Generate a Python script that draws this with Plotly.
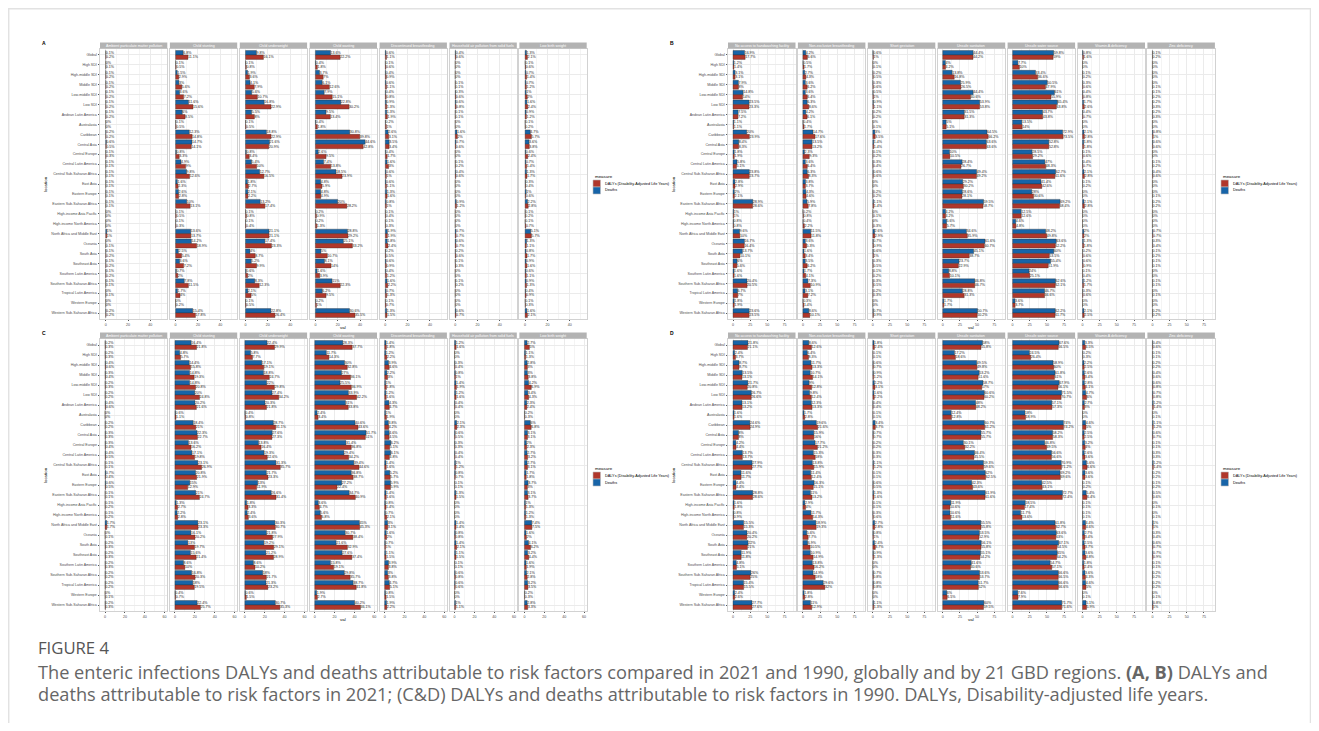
import plotly.graph_objects as go

# Page body has an 8px default margin; the figure covers x 8..1311, y 8..723 of the window.
OX, OY = 8, 8
W, H = 1303, 715

locations = ["Global", "High SDI", "High-middle SDI", "Middle SDI", "Low-middle SDI", "Low SDI",
             "Andean Latin America", "Australasia", "Caribbean", "Central Asia", "Central Europe",
             "Central Latin America", "Central Sub-Saharan Africa", "East Asia", "Eastern Europe",
             "Eastern Sub-Saharan Africa", "High-income Asia Pacific", "High-income North America",
             "North Africa and Middle East", "Oceania", "South Asia", "Southeast Asia",
             "Southern Latin America", "Southern Sub-Saharan Africa", "Tropical Latin America",
             "Western Europe", "Western Sub-Saharan Africa"]

risks_AC = ["Ambient particulate matter pollution", "Child stunting", "Child underweight", "Child wasting",
            "Discontinued breastfeeding", "Household air pollution from solid fuels", "Low birth weight"]
risks_BD = ["No access to handwashing facility", "Non-exclusive breastfeeding", "Short gestation",
            "Unsafe sanitation", "Unsafe water source", "Vitamin A deficiency", "Zinc deficiency"]

# ---------------- Panel A (2021) ----------------
A_ambient_deaths = [0.1,0,0.1,0.1,0.1,0.1,0.1,0,0.2,0.6,0.1,0.1,0.1,0.1,0.1,0.1,0,0,1,0,0.1,0.1,0.1,0.1,0,0,0.2]
A_ambient_dalys = [0.2,0.1,0.2,0.2,0.2,0.2,0.2,0,0.2,0.5,0.3,0.1,0.1,0.1,0.1,0.1,0,0,1,0.1,0.2,0.2,0.2,0.1,0.1,0,0.2]
A_stunting_deaths = [6.8,0.1,1.5,3,3.6,11.6,6,0.1,12.3,14.7,0.8,4.9,9.8,1.6,2.6,10,0.1,0.1,13.6,14.2,2.5,3.6,0.7,7.8,1.7,0,15.4]
A_stunting_dalys = [11.1,0.5,2.9,5.6,7.2,15.6,8.5,0.5,14.8,14.1,3.3,9,12.6,2.3,2.8,13.1,0.5,0.3,13.7,18.9,5.4,7.2,2,11.5,4,0.2,17.8]
A_underweight_deaths = [9.8,0.1,1.9,4.1,5.6,16.8,5.5,0.1,18.8,21.6,0.8,5.4,12.7,1.8,2.1,13.2,0.1,0.1,21.1,17.4,4,5.2,0.6,8.3,2.1,0.1,22.8]
A_underweight_dalys = [16.1,0.8,3.6,7.9,10.7,22.9,8,0.5,22.9,20.9,3.4,10,16.5,2.7,2.2,17.4,0.8,0.4,21.1,23.3,8.7,9.9,2,12.3,5,0.5,26.4]
A_wasting_deaths = [13.6,0.4,3.7,6.1,7.9,22.8,9.5,0.4,30.8,44.6,2.6,7.4,18.5,4.8,4.8,20,0.2,0.2,28.8,25.1,5,8.1,1.6,15,6.2,0.2,30.6]
A_wasting_dalys = [22.2,1.8,7,12.6,15.1,30.2,13.4,1.8,39.8,42.8,9.5,13.8,23.9,5.9,4.9,28.2,0.9,1.3,29.2,33.2,10.7,14,3.9,22.3,9.5,1,35.5]
A_discont_deaths = [0.6,0.1,0.4,0.6,0.4,0.9,1.3,0.2,2.6,3.5,0.4,1.6,0.6,0.6,1.3,0.8,0.1,0.1,1.9,1.8,0.2,0.6,0.4,1.6,0.7,0.1,1.3]
A_discont_dalys = [1.1,0.6,0.9,1.1,0.8,1.3,1.9,1,3.1,3.4,1.7,3,1,1.1,1.6,1,0.4,0.3,1.9,2.4,0.5,0.9,1.2,2.2,1.3,0.7,1.5]
A_household_deaths = [0.4,0,0,0.1,0.3,0.6,0.1,0,1.6,0.7,0,0.1,0.4,0,0,0.9,0,0,0.7,0.6,0.2,0.1,0,0.1,0,0,0.6]
A_household_dalys = [0.6,0,0,0.1,0.6,0.8,0.1,0,2,0.6,0,0.2,0.6,0,0,1.2,0,0,0.7,0.7,0.6,0.3,0,0.2,0,0,0.7]
A_lbw_deaths = [1.3,0.1,0.7,0.7,1,1.6,0.9,0.1,4.7,3.6,0.6,0.7,1.3,0.3,1,2.2,0.1,0.1,5.1,1.3,0.8,0.9,0.6,0.9,0.4,0.1,1.6]
A_lbw_dalys = [2.1,0.6,1.4,1.2,2,2.4,1.2,0.2,5.7,3.8,2.4,1.4,1.7,0.4,0.6,2.8,0.2,0.7,5.7,1.1,1.7,1.6,1.1,1.3,0.9,0.3,2.1]

# ---------------- Panel B (2021) ----------------
B_handwash_deaths = [16.9,1.2,3.1,7.9,14.8,23.5,7.5,1.1,20,8.4,1.8,5.8,23.8,2.8,2,28.9,1,0.8,9.6,16.7,13.7,6,1.6,20.4,6.7,1.8,23.6]
B_handwash_dalys = [17.7,1.4,3.1,8,14,23.3,7.2,1.1,23.9,8.3,1.9,5.1,23.7,2.9,2.1,28.6,1,0.8,10,16.4,10.1,5.6,1.6,20.5,7,1.9,23.5]
B_nonexcl_deaths = [4.2,0.5,2.7,3.6,3.6,6.3,4.2,0.4,14.7,13.5,2.3,3.6,6.3,3.8,4.3,5.9,0.2,0.4,11.5,3.6,1.6,3.5,1.7,7.3,3.1,0.3,8.6]
B_nonexcl_dalys = [6.6,1.7,4.3,6.2,6.4,8.6,6.1,1.7,17.6,13.2,9.3,6.4,8.3,3.7,4.6,7.8,0.8,2.2,11.8,5.3,3.4,6.2,4.1,10.9,7.2,1.4,10.1]
B_shortgest_deaths = [0.6,0,0.2,0.3,0.5,0.9,0.2,0,3,1.4,0.1,0.3,0.6,0,0.2,1.1,0,0,2.6,0.7,0.6,0.3,0.1,0.3,0.2,0,0.7]
B_shortgest_dalys = [1,0.1,0.5,0.6,1,1.1,0.2,0.1,3.5,1.4,0.2,0.4,0.6,0,0.2,1.4,0.1,0.3,2.9,0.9,1,0.5,0.2,0.5,0.3,0,0.9]
B_sanitation_deaths = [44.4,4,13.8,25.9,44.4,53.9,31.5,5,64.5,63.6,10,28.4,49.4,29.2,28.6,59.5,4.2,5.6,34.6,61.6,45.1,23.7,8.8,46.8,28.8,1.7,50.7]
B_sanitation_dalys = [44.2,4.2,16.8,26.5,40.6,53.8,31.3,5.1,66.2,63.6,10.5,26.7,49.2,30.2,28.1,58.7,4.2,5.7,35.9,60.7,38.7,22.9,10.1,46.7,31.3,1.7,50.2]
B_water_deaths = [59.8,7.7,33.4,50.5,61,65.4,43.7,13.5,72.9,52.8,28.5,47,62.7,41.4,28,69.2,12.5,4.6,48.2,63.6,60,55.4,24,62.6,46.7,3.6,62.2]
B_water_dalys = [59,10,36.6,47.9,55.9,63.8,43.8,14,73.5,52.8,29.2,48.3,61.6,42.6,30.6,68.4,12.6,4.8,49.8,62.2,53.5,51.9,25.1,62.1,46.6,3.7,61.7]
B_vita_deaths = [0.8,0,0.1,0.3,0.4,1.7,0.4,0,2.1,1.8,0.1,0.4,2.1,0.1,0,2.1,0,0,2,1.3,0.2,0.6,0.1,1.2,0.3,0,2.1]
B_vita_dalys = [1.6,0,0.2,0.6,0.8,2.6,0.7,0,2.8,1.8,0.6,0.7,2.8,0.2,0,2.8,0,0,2,1.8,0.6,0.9,0.4,1.7,0.6,0,2.5]
B_zinc_deaths = [0.1,0,0,0,0.1,0.2,0.2,0,0.8,0.6,0,0.1,0.4,0,0,0.2,0,0,0.7,0.3,0.1,0.1,0,0.1,0,0,0.2]
B_zinc_dalys = [0.2,0,0,0.1,0.2,0.3,0.3,0,1,0.6,0,0.2,0.6,0,0.1,0.2,0,0,0.7,0.4,0.2,0.1,0,0.1,0.1,0,0.2]

# ---------------- Panel C (1990) ----------------
C_ambient_deaths = [0.2,0.2,0.4,0.3,0.2,0.2,0.4,0,0.2,0.3,0.3,0.4,0.1,0.7,0.6,0.1,0.1,0.1,1.7,0,0.2,0.2,0.2,0.2,0.2,0,0.2]
C_ambient_dalys = [0.3,0.3,0.6,0.4,0.3,0.2,0.6,0,0.2,0.3,0.4,0.5,0.1,0.4,0.5,0.1,0.2,0.2,1.7,0.1,0.3,0.3,0.3,0.2,0.2,0.1,0.3]
C_stunting_deaths = [16.4,4.8,14.4,14.8,14.8,20,20.2,0.6,18.4,22.3,13.6,17.1,23.1,20.8,15,21,1.3,2.2,23.1,16.1,13,15.6,8.6,16.8,18,0.4,22.4]
C_stunting_dalys = [21.8,5.7,15.8,19.3,20.8,24.8,21.6,1.1,21,22.7,16.2,19.8,26.9,21.9,12.9,24.7,2.7,2.8,23.3,20.2,19.7,21.4,10,20.3,19.5,0.7,25.7]
C_underweight_deaths = [22.4,5.8,17.1,18.8,22,27.4,20.3,0.4,28.7,27.6,13.8,19.3,31.3,21.7,13,26.6,1.8,2.4,30.3,21.8,19.2,21.2,8.6,18,21.3,0.6,30.7]
C_underweight_dalys = [29.9,7.7,19.1,24.7,29.8,34.2,21.8,0.8,31.1,27.3,16.4,22.6,35.7,23.3,11.9,31.4,3.3,3.6,30.7,27.9,29.1,28.9,10.2,21.7,23.2,1.5,35.3]
C_wasting_deaths = [28.3,11.7,30,27,25.5,33.9,31,2.4,40.6,51.7,31.4,29.4,39.4,36.8,27.2,34.7,3.6,5.6,45,30.7,21.6,27.6,15.8,29.8,38.7,1.9,40.2]
C_wasting_dalys = [37.7,14.3,32.8,36.1,36.9,42.2,33.8,3.4,43.6,51,36.8,34.2,44.6,38.7,22.4,40.9,4.7,6.8,45.3,38.4,32.9,37.4,19.1,35.7,41.8,2.7,46.1]
C_discont_deaths = [1.4,1.2,3.9,2.2,1,1.2,4.3,1,3.8,4.6,6.2,6.1,1.4,5.2,5.9,1.4,0.8,0.7,3,1.6,0.7,1.1,3.9,3,4.7,0.8,1.9]
C_discont_dalys = [1.8,2.2,4.6,3,1.8,1.6,4.7,1.9,4.2,4.5,5.1,4.8,1.6,5.7,5.9,1.6,1.4,2.1,3.1,2,1,1.5,3.8,3.8,5.1,1.5,2.2]
C_household_deaths = [1.2,0,0.3,0.8,1.4,1.2,0.4,0,2.1,0.6,0.3,0.4,1,0.8,0.1,1.3,0,0,1.4,0.8,1.4,1.1,0.1,0.6,0.6,0,1]
C_household_dalys = [1.6,0,0.4,1,1.9,1.6,0.4,0,2.3,0.5,0.3,0.4,1.2,0.7,0.1,1.5,0,0,1.4,0.8,2.1,1.5,0.1,0.8,0.6,0,1.1]
C_lbw_deaths = [2.7,1.1,2.8,3,4.2,3.4,2.3,0.2,6,3.1,2,2.7,2.7,1.7,3.7,3.1,1,1.2,7.4,1.6,4.1,3.2,1.6,2.1,3.2,0.2,2.8]
C_lbw_dalys = [5,1.3,3,3.8,6.9,4.3,2.4,0.3,6.8,3.1,2.3,3.2,3.1,1.8,3,3.7,1.3,1.3,7.5,2,6.2,4.4,1.9,2.8,3.5,0.3,3.3]

# ---------------- Panel D (1990) ----------------
D_handwash_deaths = [21.8,2.4,8.7,13.5,21.7,26.7,13.1,1.6,24.6,8,4.2,13.7,27.9,11.6,4.4,28.8,1.6,0.8,15.5,20.4,22,11.9,4.8,26,15.4,2.4,27.7]
D_handwash_dalys = [21.1,3.7,8.7,13.1,20.8,26.6,13.2,1.6,24.9,8,4.4,13.7,27.7,11.7,4.4,28.6,1.8,0.9,15.3,20.2,21,11.8,5.1,25,15.5,2.6,27.6]
D_nonexcl_deaths = [8.6,6.4,11.7,10.7,9,9.8,12.3,1.7,19.6,15.9,17.7,15.3,13.8,11.4,16.3,11,2.9,11.7,18.9,5.6,6.9,10.9,13.8,14.9,29.6,1.8,11]
D_nonexcl_dalys = [12.6,8.3,13.3,14.1,12.8,12.4,13.3,2.8,21.6,16,21.2,18,15.9,12.4,15.1,13.2,4,14.3,19.3,7.7,10.5,14.9,16.2,18,32,2.8,12.9]
D_shortgest_deaths = [1.8,0.1,0.6,0.9,2.2,1.6,0.4,0.1,3.4,0.7,0.2,0.3,1.1,0.1,0.6,1.3,0.1,0.3,2.7,0.8,2.4,0.9,0,0.7,0.8,0,1.1]
D_shortgest_dalys = [2.4,0.1,0.7,1.2,3.1,2.2,0.4,0.1,3.7,0.7,0.2,0.3,1.2,0.1,0.5,1.6,0.1,0.6,2.8,1,3.7,1.3,0,0.8,0.8,0,1.3]
D_sanitation_deaths = [58,17.2,49.5,53.2,58.7,60.6,48,12.4,60.7,55.7,30.1,46.4,59.3,62,42.3,61.9,11.9,10.6,55.5,53.5,56.1,55.1,41.6,53.6,51.7,6,60]
D_sanitation_dalys = [55.8,18.6,49.8,51.6,57,60.2,48.2,12.8,61.2,55.7,32.2,45.5,59.6,62.5,43.6,61.6,10.6,11.6,55.8,52.9,55.8,54.2,40.6,53.7,52,6.5,59.5]
D_water_deaths = [67.6,24.5,58.9,61.8,67.9,71.5,57.1,18,74,58.2,46.8,56.6,70.9,69.2,42.5,72.7,18.5,11.7,61.8,63.6,67.1,65,54.7,66.6,66.6,7.6,71.7]
D_water_dalys = [66.5,26.4,60,61,66.1,70.7,57.3,18.9,74.2,58.3,49.5,56.6,71.2,69.6,43.1,72.4,17.4,13.6,62.7,63,64.5,64.2,57.1,66.5,66.6,7.9,71.6]
D_vita_deaths = [3.3,0.2,2.2,2.6,2.8,4.7,2.7,0,4.6,2.5,3.2,2.6,5.6,3.6,0.1,5.4,0.1,0.1,4.4,2.7,2.5,3.6,1.8,3.6,4.6,0,5.1]
D_vita_dalys = [4.5,0.3,2.5,3.4,4.1,6,3,0,5,2.5,4,3.6,6.6,3.6,0.2,6.4,0.1,0.1,4.6,3.4,3.7,4.8,2.4,4.3,5,0.1,5.9]
D_zinc_deaths = [0.4,0.1,0.2,0.4,0.6,0.7,1.2,0,1.1,0.6,0.1,0.3,1.2,0.2,0.1,0.5,0,0,1,0.3,0.6,0.7,0.1,0.2,0.2,0,0.8]
D_zinc_dalys = [0.6,0.1,0.2,0.6,0.8,0.8,1.4,0.1,1.2,0.7,0.1,0.3,1.4,0.2,0.2,0.6,0.1,0.1,1,0.4,0.7,0.9,0.1,0.2,0.2,0.1,1]

legend_labels = ["DALYs (Disability-Adjusted Life Years)", "Deaths"]

# ---------------- styling ----------------
RED = "#B0372B"
BLUE = "#1764A8"
FONT = "Liberation Sans"
GRID = "#ebebeb"
MINOR = "#f4f4f4"
BORDER = "#d2d2d2"
STRIP = "#b3b3b3"


def px(x):
    return (x - OX) / W


def py(y):
    return 1 - (y - OY) / H


def fmt(v):
    return f"{round(v, 1):g}%"


panels = [
    dict(letter="A", risks=risks_AC, top=49, bottom=319, x0=100, w=67.3, step=69.9,
         xr=[-5.1, 55.2], dtick=20, minor=10, leg_x=593, leg_y=176,
         data=[(A_ambient_deaths, A_ambient_dalys), (A_stunting_deaths, A_stunting_dalys),
               (A_underweight_deaths, A_underweight_dalys), (A_wasting_deaths, A_wasting_dalys),
               (A_discont_deaths, A_discont_dalys), (A_household_deaths, A_household_dalys),
               (A_lbw_deaths, A_lbw_dalys)]),
    dict(letter="B", risks=risks_BD, top=49, bottom=319, x0=728, w=67.5, step=69.9,
         xr=[-7.3, 91], dtick=25, minor=12.5, leg_x=1221, leg_y=176,
         data=[(B_handwash_deaths, B_handwash_dalys), (B_nonexcl_deaths, B_nonexcl_dalys),
               (B_shortgest_deaths, B_shortgest_dalys), (B_sanitation_deaths, B_sanitation_dalys),
               (B_water_deaths, B_water_dalys), (B_vita_deaths, B_vita_dalys),
               (B_zinc_deaths, B_zinc_dalys)]),
    dict(letter="C", risks=risks_AC, top=339, bottom=611, x0=100, w=67.3, step=69.9,
         xr=[-5.1, 62.7], dtick=20, minor=10, leg_x=593, leg_y=468,
         data=[(C_ambient_deaths, C_ambient_dalys), (C_stunting_deaths, C_stunting_dalys),
               (C_underweight_deaths, C_underweight_dalys), (C_wasting_deaths, C_wasting_dalys),
               (C_discont_deaths, C_discont_dalys), (C_household_deaths, C_household_dalys),
               (C_lbw_deaths, C_lbw_dalys)]),
    dict(letter="D", risks=risks_BD, top=339, bottom=611, x0=728, w=67.5, step=69.9,
         xr=[-7.3, 91], dtick=25, minor=12.5, leg_x=1221, leg_y=468,
         data=[(D_handwash_deaths, D_handwash_dalys), (D_nonexcl_deaths, D_nonexcl_dalys),
               (D_shortgest_deaths, D_shortgest_dalys), (D_sanitation_deaths, D_sanitation_dalys),
               (D_water_deaths, D_water_dalys), (D_vita_deaths, D_vita_dalys),
               (D_zinc_deaths, D_zinc_dalys)]),
]

fig = go.Figure()
layout = {}
shapes = []
annotations = []
n = 0
for p in panels:
    for k, (risk, (deaths, dalys)) in enumerate(zip(p["risks"], p["data"])):
        n += 1
        xa = "x" if n == 1 else f"x{n}"
        ya = "y" if n == 1 else f"y{n}"
        xk = "xaxis" if n == 1 else f"xaxis{n}"
        yk = "yaxis" if n == 1 else f"yaxis{n}"
        fx0 = p["x0"] + k * p["step"]
        fx1 = fx0 + p["w"]
        layout[xk] = dict(
            domain=[px(fx0), px(fx1)], anchor=ya, range=p["xr"], tick0=0, dtick=p["dtick"],
            showgrid=True, gridcolor=GRID, gridwidth=0.6, zeroline=False,
            minor=dict(dtick=p["minor"], tick0=0, showgrid=True, gridcolor=MINOR, gridwidth=0.4),
            showline=True, linecolor=BORDER, linewidth=0.8, mirror=True,
            ticks="outside", ticklen=1.5, tickwidth=0.4, tickcolor="#555",
            tickfont=dict(size=3.6, color="#4d4d4d", family=FONT), fixedrange=True,
        )
        layout[yk] = dict(
            domain=[py(p["bottom"]), py(p["top"])], anchor=xa, type="category",
            categoryorder="array", categoryarray=locations, range=[26.6, -0.6],
            showgrid=True, gridcolor=GRID, gridwidth=0.6, zeroline=False,
            showline=True, linecolor=BORDER, linewidth=0.8, mirror=True,
            showticklabels=(k == 0), ticks="outside" if k == 0 else "",
            ticklen=1.5, tickwidth=0.4, tickcolor="#555",
            tickfont=dict(size=3.6, color="#4d4d4d", family=FONT), fixedrange=True,
        )
        common = dict(orientation="h", y=locations, xaxis=xa, yaxis=ya, width=0.45,
                      textposition="outside", constraintext="none", cliponaxis=False,
                      showlegend=False, hoverinfo="skip")
        fig.add_trace(go.Bar(x=deaths, offset=-0.45, name=legend_labels[1],
                             marker=dict(color=BLUE, line=dict(color="#2b2b2b", width=0.35)),
                             text=[fmt(v) for v in deaths],
                             textfont=dict(size=3.6, color="#1a1a1a", family=FONT), **common))
        fig.add_trace(go.Bar(x=dalys, offset=0.0, name=legend_labels[0],
                             marker=dict(color=RED, line=dict(color="#2b2b2b", width=0.35)),
                             text=[fmt(v) for v in dalys],
                             textfont=dict(size=3.6, color="#1a1a1a", family=FONT), **common))
        # facet strip
        shapes.append(dict(type="rect", xref="paper", yref="paper", x0=px(fx0), x1=px(fx1),
                           y0=py(p["top"] - 0.4), y1=py(p["top"] - 6.4), fillcolor=STRIP,
                           line=dict(width=0), layer="above"))
        annotations.append(dict(text=risk, x=px((fx0 + fx1) / 2), y=py(p["top"] - 3.4),
                                xref="paper", yref="paper", showarrow=False,
                                font=dict(size=3.6, color="white", family=FONT),
                                xanchor="center", yanchor="middle"))
    # panel letter
    letter_x = 44 if p["x0"] < 500 else 672
    annotations.append(dict(text=f"<b>{p['letter']}</b>", x=px(letter_x), y=py(p["top"] - 6),
                            xref="paper", yref="paper", showarrow=False, xanchor="center",
                            yanchor="middle", font=dict(size=5, color="black", family=FONT)))
    # axis titles
    last_x1 = p["x0"] + 6 * p["step"] + p["w"]
    annotations.append(dict(text="val", x=px((p["x0"] + last_x1) / 2), y=py(p["bottom"] + 8.5),
                            xref="paper", yref="paper", showarrow=False, xanchor="center",
                            yanchor="middle", font=dict(size=4.4, color="black", family=FONT)))
    annotations.append(dict(text="location", x=px(letter_x + 1), y=py((p["top"] + p["bottom"]) / 2),
                            xref="paper", yref="paper", showarrow=False, textangle=-90,
                            xanchor="center", yanchor="middle",
                            font=dict(size=4.4, color="black", family=FONT)))
    # legend (manual)
    lx, ly = p["leg_x"], p["leg_y"]
    annotations.append(dict(text="measure", x=px(lx), y=py(ly), xref="paper", yref="paper",
                            showarrow=False, xanchor="left", yanchor="middle",
                            font=dict(size=4.4, color="black", family=FONT)))
    for j, (lab, col) in enumerate(zip(legend_labels, [RED, BLUE])):
        ky0 = ly + 4 + j * 7
        shapes.append(dict(type="rect", xref="paper", yref="paper", x0=px(lx), x1=px(lx + 7.5),
                           y0=py(ky0), y1=py(ky0 + 7), fillcolor=col,
                           line=dict(color="#bdbdbd", width=0.6)))
        annotations.append(dict(text=lab, x=px(lx + 9.5), y=py(ky0 + 3.5), xref="paper",
                                yref="paper", showarrow=False, xanchor="left", yanchor="middle",
                                font=dict(size=3.8, color="black", family=FONT)))

# page frame
shapes.append(dict(type="rect", xref="paper", yref="paper", x0=px(8.7), x1=px(1310.5),
                   y0=py(8.7), y1=py(760), line=dict(color="#e2e2e2", width=1.5), layer="below"))

# caption
CAP_FONT = "Open Sans"
annotations.append(dict(text="FIGURE 4", x=px(36), y=py(647), xref="paper", yref="paper",
                        showarrow=False, xanchor="left", yanchor="middle",
                        font=dict(size=16.7, color="#555555", family=CAP_FONT)))
annotations.append(dict(
    text="The enteric infections DALYs and deaths attributable to risk factors compared in 2021 and 1990, "
         "globally and by 21 GBD regions. <b>(A, B)</b> DALYs and",
    x=px(36), y=py(672), xref="paper", yref="paper", showarrow=False, xanchor="left",
    yanchor="middle", font=dict(size=18.2, color="#666666", family=CAP_FONT)))
annotations.append(dict(
    text="deaths attributable to risk factors in 2021; (C&amp;D) DALYs and deaths attributable to risk "
         "factors in 1990. DALYs, Disability-adjusted life years.",
    x=px(36), y=py(694), xref="paper", yref="paper", showarrow=False, xanchor="left",
    yanchor="middle", font=dict(size=18.2, color="#666666", family=CAP_FONT)))

fig.update_layout(
    width=W, height=H, margin=dict(l=0, r=0, t=0, b=0),
    paper_bgcolor="white", plot_bgcolor="white", barmode="overlay",
    shapes=shapes, annotations=annotations, showlegend=False,
    font=dict(family=FONT), **layout,
)
fig.write_html("out.html")
